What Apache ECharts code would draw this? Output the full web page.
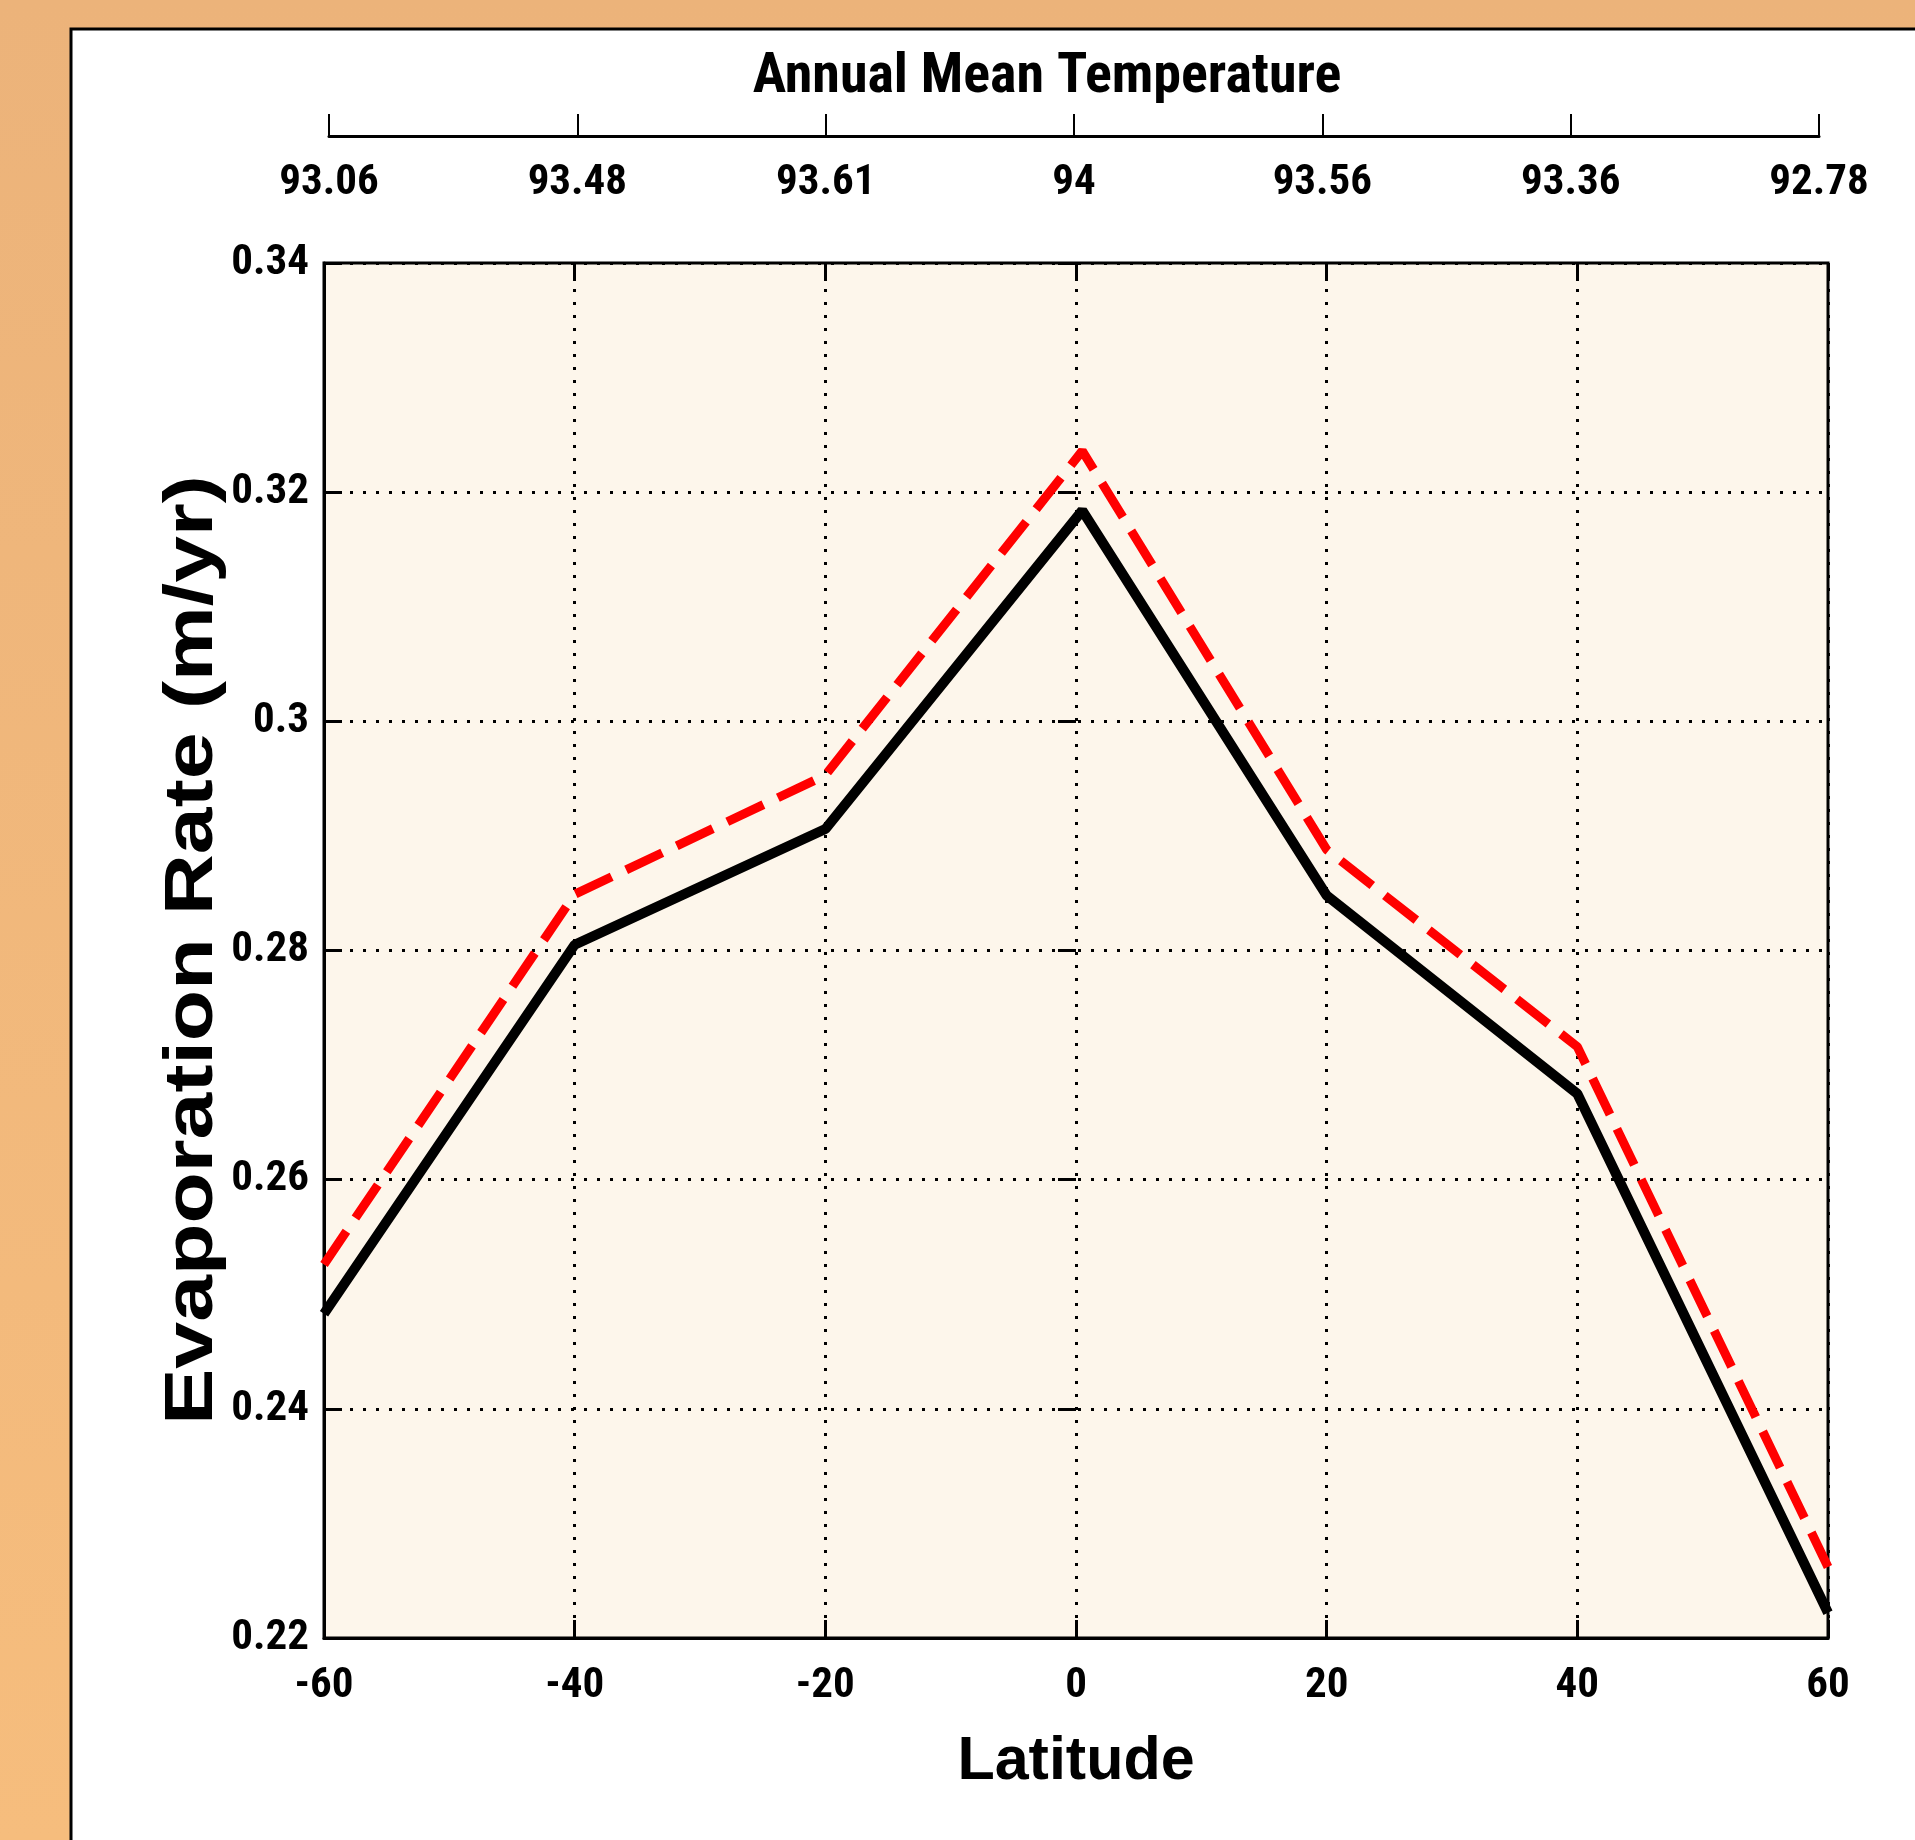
<!DOCTYPE html>
<html>
<head>
<meta charset="utf-8">
<script src="https://cdn.jsdelivr.net/npm/echarts@6/dist/echarts.min.js"></script>
<style>
  html, body { margin: 0; padding: 0; }
  #chart { width: 1915px; height: 1840px; }
</style>
</head>
<body>
<div id="chart"></div>
<script>
// latitude of each model point
var latitudes = [-60, -40, -20, 0.5, 20, 40, 60];
// evaporation rate (m/yr), solid black run
var evapBase = [0.2483, 0.2805, 0.2906, 0.3184, 0.2848, 0.2675, 0.2222];
// evaporation rate (m/yr), red dashed run
var evapWarm = [0.2526, 0.2849, 0.2953, 0.3236, 0.2888, 0.2716, 0.2262];
// top axis labels
var tempLabels = ['93.06', '93.48', '93.61', '94', '93.56', '93.36', '92.78'];

// narrow face: Roboto is a variable font, "condensed" goes in the style slot
var narrow = "Roboto, 'DejaVu Sans Condensed', sans-serif";
var plain = "'Liberation Sans', Arial, sans-serif";

function pairs(xs, ys) {
    var out = [];
    for (var i = 0; i < xs.length; i++) out.push([xs[i], ys[i]]);
    return out;
}

var tickFont = {
    color: '#000', fontFamily: narrow, fontStyle: 'condensed', fontWeight: 'bold', fontSize: 43
};
var gridDots = {show: true, lineStyle: {color: '#000', width: 3, type: [3, 10]}};

var myDom = document.getElementById('chart');
var myChart = echarts.init(myDom);
myChart.setOption({
    animation: false,
    backgroundColor: {
        type: 'linear', x: 0, y: 0, x2: 0, y2: 1,
        colorStops: [{offset: 0, color: '#ECB37A'}, {offset: 1, color: '#F6BD7D'}]
    },
    graphic: [
        {
            type: 'rect', z: -100,
            shape: {x: 71, y: 29, width: 2000, height: 2000},
            style: {fill: '#FFFFFF', stroke: '#000', lineWidth: 3}
        },
        {
            type: 'text', z: 10,
            x: 1047, y: 78,
            style: {
                text: 'Annual Mean Temperature',
                font: 'condensed bold 56px ' + narrow,
                fill: '#000',
                align: 'center',
                verticalAlign: 'middle'
            }
        },
        {
            type: 'text', z: 10,
            x: 193, y: 950,
            rotation: Math.PI / 2,
            scaleX: 1.22,
            style: {
                text: 'Evaporation Rate (m/yr)',
                font: 'bold 69px ' + plain,
                fill: '#000',
                align: 'center',
                verticalAlign: 'middle'
            }
        }
    ],
    grid: [
        {
            left: 324, right: 87, top: 263, bottom: 202,
            show: true,
            backgroundColor: '#FDF6EB',
            borderColor: '#000',
            borderWidth: 3
        },
        {
            left: 329, right: 96, top: 135, height: 1
        }
    ],
    xAxis: [
        {
            type: 'value', gridIndex: 0, position: 'bottom',
            min: -60, max: 60, interval: 20,
            axisLine: {show: true, onZero: false, lineStyle: {color: '#000', width: 3}},
            axisTick: {show: true, inside: true, length: 18, lineStyle: {color: '#000', width: 3}},
            axisLabel: Object.assign({margin: 27}, tickFont),
            splitLine: gridDots,
            name: 'Latitude',
            nameLocation: 'middle',
            nameGap: 94,
            nameTextStyle: {color: '#000', fontFamily: plain, fontWeight: 'bold', fontSize: 61}
        },
        {
            type: 'value', gridIndex: 0, position: 'top',
            min: -60, max: 60, interval: 20,
            axisLine: {show: false},
            axisTick: {show: true, inside: true, length: 18, lineStyle: {color: '#000', width: 3}},
            axisLabel: {show: false},
            splitLine: {show: false}
        },
        {
            type: 'category', gridIndex: 1, position: 'bottom',
            data: tempLabels,
            boundaryGap: false,
            axisLine: {show: true, lineStyle: {color: '#000', width: 3}},
            axisTick: {show: true, inside: true, length: 22, alignWithLabel: true, lineStyle: {color: '#000', width: 2}},
            axisLabel: Object.assign({margin: 26, interval: 0}, tickFont),
            splitLine: {show: false}
        }
    ],
    yAxis: [
        {
            type: 'value', gridIndex: 0, position: 'left',
            min: 0.22, max: 0.34, interval: 0.02,
            axisLine: {show: true, onZero: false, lineStyle: {color: '#000', width: 3}},
            axisTick: {show: true, inside: true, length: 18, lineStyle: {color: '#000', width: 3}},
            axisLabel: Object.assign({margin: 15}, tickFont),
            splitLine: gridDots
        },
        {
            type: 'value', gridIndex: 0, position: 'right',
            min: 0.22, max: 0.34, interval: 0.02,
            axisLine: {show: false},
            axisTick: {show: true, inside: true, length: 18, lineStyle: {color: '#000', width: 3}},
            axisLabel: {show: false},
            splitLine: {show: false}
        },
        {
            type: 'value', gridIndex: 1, show: false
        }
    ],
    series: [
        {
            name: 'base',
            type: 'line',
            xAxisIndex: 0, yAxisIndex: 0,
            data: pairs(latitudes, evapBase),
            symbol: 'none',
            z: 3,
            lineStyle: {color: '#000', width: 10, join: 'bevel'}
        },
        {
            name: 'warm',
            type: 'line',
            xAxisIndex: 0, yAxisIndex: 0,
            data: pairs(latitudes, evapWarm),
            symbol: 'none',
            z: 4,
            lineStyle: {color: '#FF0000', width: 9, type: [40, 16], cap: 'butt'}
        }
    ]
});
</script>
</body>
</html>
